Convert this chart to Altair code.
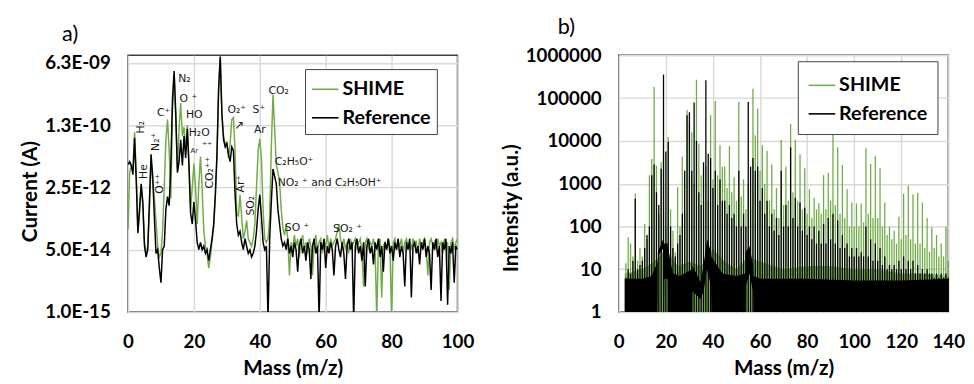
import altair as alt
import numpy as np
import pandas as pd

GREEN = "#70AD47"
BLACK = "#000000"
FONT = "Lato"
ANN_FONT = "DejaVu Sans"
series_names = ["SHIME", "Reference"]

# ---------------- panel a : current vs mass (log10 of current in A) ----------------
a_mass = np.round(np.arange(0, 100.001, 0.5), 1)

a_shime_log = [
    -12.75, -11.2, -11.0, -11.1, -10.1, -11.2, -12.8, -12.3, -11.55, -12.1,
    -13.1, -13.4, -13.2, -12.2, -10.9, -11.4, -11.9, -12.5, -13.2, -13.5,
    -13.4, -12.8, -11.6, -10.3, -9.75, -10.6, -11.9, -9.5, -8.55, -9.7,
    -11.1, -10.0, -9.3, -10.2, -9.96, -10.6, -9.9, -10.9, -12.2, -11.6,
    -10.95, -11.6, -12.6, -11.5, -10.76, -11.6, -12.8, -13.2, -13.4, -13.8,
    -13.5, -13.1, -12.7, -11.9, -10.8, -9.0, -8.1, -9.6, -10.2, -10.4,
    -10.4, -10.8, -10.4, -9.75, -9.7, -10.6, -12.3, -12.4, -11.8, -12.4,
    -13.0, -12.8, -12.5, -13.0, -13.1, -13.2, -13.0, -12.6, -11.6, -10.6,
    -10.28, -10.8, -12.2, -13.0, -13.1, -13.0, -12.4, -10.5, -9.07, -10.0,
    -10.98, -11.2, -11.43, -12.2, -12.7,
    -12.9, -12.6, -13.0, -14.0, -13.1, -13.3, -12.9, -13.2, -13.0, -13.5,
    -13.1, -12.9, -13.3, -13.1, -13.4, -13.0, -13.2, -14.0, -13.1, -12.9,
    -13.3, -13.1, -13.0, -13.4, -13.1, -13.2, -12.9, -13.3, -13.0, -13.2,
    -13.1, -13.0, -12.8, -12.6, -13.0, -13.2, -13.0, -13.3, -13.1, -13.4,
    -13.0, -13.2, -13.1, -13.0, -13.3, -13.1, -13.0, -13.4, -14.3, -13.1,
    -13.0, -13.3, -13.1, -13.2, -13.0, -13.3, -15.2, -13.1, -13.0, -14.6,
    -13.2, -13.1, -13.3, -13.0, -13.2, -15.2, -13.1, -13.0, -13.3, -13.1,
    -13.2, -13.0, -13.4, -13.1, -13.0, -13.2, -13.1, -13.3, -13.0, -13.2,
    -13.1, -13.4, -13.0, -13.2, -13.1, -13.0, -13.3, -14.0, -13.1, -13.0,
    -13.2, -13.1, -13.3, -13.0, -13.2, -13.1, -13.4, -13.0, -13.2, -13.1,
    -14.4, -13.1, -13.0, -13.3, -13.1, -13.0,
]

a_ref_log = [
    -10.98, -10.9, -11.0, -11.25, -10.25, -11.4, -12.85, -12.2, -11.5, -12.0,
    -13.2, -13.5, -13.3, -12.0, -10.7, -11.3, -12.4, -13.4, -13.3, -13.8,
    -14.2, -13.3, -13.2, -12.2, -11.85, -12.1, -11.0, -9.2, -8.43, -9.6,
    -11.2, -10.9, -10.3, -11.0, -10.2, -10.8, -10.0, -11.0, -12.3, -12.6,
    -12.0, -12.5, -13.1, -13.3, -13.1, -13.3, -13.2, -13.4, -13.3, -13.6,
    -13.3, -13.0, -12.6, -11.8, -10.7, -8.9, -8.03, -9.6, -10.3, -10.5,
    -10.4, -10.7, -10.9, -10.5, -10.6, -11.8, -12.6, -12.9, -12.8, -13.1,
    -13.3, -13.0, -13.2, -13.4, -13.3, -13.5, -13.4, -13.2, -12.8, -12.2,
    -11.8, -12.4, -13.1, -13.3, -13.2, -15.2, -13.0, -12.0, -11.1, -11.3,
    -11.5, -12.2, -12.6, -13.0, -13.2,
    -13.1, -13.3, -13.0, -13.4, -13.2, -13.5, -13.1, -13.3, -13.9, -13.2,
    -13.0, -13.4, -13.2, -13.6, -13.1, -13.3, -14.1, -13.2, -13.0, -13.4,
    -13.2, -15.2, -13.1, -13.3, -13.0, -13.8, -13.2, -13.4, -13.1, -13.3,
    -14.0, -13.2, -13.0, -13.3, -13.5, -13.1, -13.4, -14.1, -13.2, -13.0,
    -13.3, -13.1, -15.2, -13.2, -13.0, -13.4, -13.2, -13.6, -13.1, -14.3,
    -13.2, -13.0, -13.4, -13.2, -13.7, -13.1, -13.3, -13.0, -13.5, -13.2,
    -13.9, -13.1, -13.3, -13.0, -13.4, -13.2, -13.6, -13.1, -13.3, -13.0,
    -13.5, -13.2, -13.4, -14.3, -13.1, -13.3, -13.0, -14.6, -13.2, -13.1,
    -13.4, -13.2, -13.7, -13.1, -13.3, -13.0, -13.5, -13.2, -13.4, -14.4,
    -13.1, -13.3, -13.0, -13.5, -13.2, -14.7, -13.1, -13.3, -13.0, -14.8,
    -13.2, -13.4, -13.1, -14.2, -13.2, -13.3,
]

a_ytick_values = [1e-15, 5e-14, 2.5e-12, 1.25e-10, 6.25e-9]
a_ytick_labels = ["1.0E-15", "5.0E-14", "2.5E-12", "1.3E-10", "6.3E-09"]
a_xticks = [0, 20, 40, 60, 80, 100]

ann_text = ["H₂", "He", "N₂⁺", "O⁺⁺", "C⁺", "N₂", "O ⁺", "HO", "H₂O", "Ar", "⁺⁺",
            "CO₂⁺⁺", "O₂⁺", "↗", "S⁺", "Ar", "CO₂", "Ar⁺", "SO₂", "C₂H₅O⁺",
            "NO₂ ⁺ and C₂H₅OH⁺", "SO ⁺", "SO₂ ⁺"]
ann_mass = [3.9, 4.8, 8.4, 9.6, 10.8, 17.1, 18.3, 20.1, 21.6, 20.1, 24.0,
            24.8, 33.0, 33.8, 39.7, 40.0, 45.7, 34.3, 37.3, 50.4,
            61.2, 51.3, 66.6]
ann_log = [-9.96, -11.17, -10.36, -11.5, -9.58, -8.65, -9.2, -9.64, -10.12, -10.62, -10.44,
           -11.2, -9.5, -9.9, -9.5, -10.04, -8.97, -11.5, -12.1, -10.92,
           -11.48, -12.7, -12.75]
ann_angle = [270, 270, 270, 270, 0, 0, 0, 0, 0, 0, 0,
             270, 0, 0, 0, 0, 0, 270, 270, 0,
             0, 0, 0]
ann_size = [11, 11, 11, 11, 11, 11, 11, 11, 11, 7, 10,
            11, 11, 12, 11, 11, 11, 11, 11, 11,
            11, 11, 11]

# ---------------- panel b : intensity vs mass (log10 of intensity) ----------------
b_mass = list(range(1, 141))
b_shime_log = [
    0.0, 0.0, 1.14, 1.75, 1.6, 1.3, 2.77, 1.2, 1.5, 1.3,
    2.06, 1.7, 3.2, 3.58, 5.26, 3.42, 2.29, 3.5, 3.7, 2.0,
    4.09, 2.4, 1.9, 1.4, 2.92, 2.0, 3.63, 2.3, 4.73, 4.4,
    4.2, 3.0, 5.43, 3.94, 3.2, 2.6, 3.4, 2.6, 4.6, 3.1,
    4.93, 3.2, 3.9, 3.4, 3.4, 2.9, 3.88, 2.8, 3.15, 2.6,
    4.91, 2.7, 3.1, 2.4, 3.0, 2.4, 5.22, 4.13, 4.76, 3.3,
    3.9, 3.0, 3.77, 2.6, 3.45, 2.4, 2.9, 2.2, 4.02, 2.5,
    3.4, 2.6, 4.4, 2.8, 4.03, 2.6, 3.69, 2.4, 3.36, 2.3,
    2.87, 2.2, 2.67, 2.4, 2.55, 2.3, 3.2, 2.4, 3.25, 2.6,
    4.23, 2.5, 3.85, 2.3, 3.44, 2.2, 2.87, 2.0, 2.56, 2.0,
    2.54, 2.0, 2.54, 2.1, 3.84, 2.3, 3.46, 2.2, 3.65, 2.2,
    3.36, 2.0, 2.56, 1.8, 2.0, 1.7, 1.9, 1.6, 2.23, 1.7,
    2.77, 1.8, 2.96, 1.7, 2.75, 1.6, 2.79, 1.6, 2.56, 1.5,
    2.2, 1.4, 1.98, 1.5, 1.8, 1.3, 1.6, 1.3, 2.0, 1.2,
]
b_ref_log = [
    0.0, 0.0, 0.8, 1.0, 0.9, 1.2, 2.65, 1.0, 1.1, 1.2,
    1.5, 1.8, 2.0, 3.2, 3.45, 2.8, 2.5, 3.35, 5.55, 3.75,
    3.98, 2.0, 1.5, 1.3, 1.6, 1.8, 2.3, 3.3, 4.6, 4.67,
    3.3, 4.9, 4.0, 2.8, 2.5, 3.5, 5.42, 3.7, 3.6, 2.9,
    3.3, 2.5, 3.1, 2.6, 2.6, 2.3, 2.5, 2.2, 2.3, 2.0,
    3.3, 2.0, 2.3, 2.0, 4.91, 3.4, 3.6, 3.3, 3.4, 2.6,
    2.9, 2.3, 2.6, 2.0, 2.3, 1.9, 2.2, 1.8, 3.3, 2.0,
    2.5, 2.0, 3.85, 2.2, 2.67, 2.0, 2.56, 1.9, 2.44, 1.8,
    2.0, 1.7, 2.0, 1.6, 1.9, 1.6, 2.06, 1.6, 2.2, 1.7,
    2.3, 1.6, 2.14, 1.5, 1.8, 1.5, 1.6, 1.3, 1.5, 1.3,
    1.5, 1.3, 1.4, 1.3, 2.0, 1.3, 1.7, 1.2, 1.6, 1.2,
    1.5, 1.1, 1.3, 1.0, 1.1, 1.0, 1.1, 1.0, 1.2, 1.0,
    1.3, 1.0, 1.2, 1.0, 1.2, 0.9, 1.1, 0.9, 1.0, 0.9,
    1.0, 0.9, 0.9, 0.8, 0.9, 0.8, 0.9, 0.8, 0.9, 0.8,
]

# noise floors of the dense spectra (intensity)
shime_floor_mass = [2.5, 10, 15, 20, 25, 30, 35, 40, 45, 50, 55, 60, 70, 80, 90, 100, 110, 120, 130, 140]
shime_floor_high = [8, 10, 15, 30, 12, 15, 12, 30, 15, 10, 20, 15, 10, 12, 12, 10, 10, 8, 8, 7]

ref_floor_mass = [2.5, 10, 14, 16.5, 16.6, 18.8, 18.9, 19.3, 19.4, 20.8, 20.9, 23, 26, 31.2, 31.3,
                  33, 34.7, 36, 37.5, 39.2, 39.3, 44, 50, 53.8, 53.9, 55.5, 57.1, 57.2, 60, 80,
                  100, 120, 140]
ref_floor_low = [1, 1, 1, 1, 20, 30, 1, 1, 6, 6, 1, 1, 1, 1, 3,
                 2.5, 2, 3, 10, 4, 1, 1, 1, 1, 4, 8, 3, 1, 1, 1,
                 1, 1, 1]
ref_floor_high = [6, 6, 7, 15, 25, 50, 50, 40, 40, 40, 30, 8, 7, 10, 12,
                  8, 5, 12, 50, 25, 20, 8, 7, 8, 25, 35, 12, 7, 6, 6,
                  5.5, 5.5, 6]

b_yticks = [1, 10, 100, 1000, 10000, 100000, 1000000]
b_xticks = [0, 20, 40, 60, 80, 100, 120, 140]

# ---------------- data frames ----------------
a_df = pd.concat([
    pd.DataFrame({"mass": a_mass, "current": np.power(10.0, a_shime_log), "series": "SHIME"}),
    pd.DataFrame({"mass": a_mass, "current": np.power(10.0, a_ref_log), "series": "Reference"}),
])
ann_df = pd.DataFrame({"text": ann_text, "mass": ann_mass, "current": np.power(10.0, ann_log),
                       "angle": ann_angle, "size": ann_size})

b_green = pd.DataFrame({"mass": b_mass, "intensity": np.power(10.0, b_shime_log), "base": 1.0, "series": "SHIME"})
b_black = pd.DataFrame({"mass": b_mass, "intensity": np.power(10.0, b_ref_log), "base": 1.0, "series": "Reference"})
g_floor = pd.DataFrame({"mass": shime_floor_mass, "high": shime_floor_high, "low": 1.0})
r_floor = pd.DataFrame({"mass": ref_floor_mass, "high": ref_floor_high, "low": ref_floor_low})

color_scale = alt.Scale(domain=series_names, range=[GREEN, BLACK])


def make_legend(lx, ly, pad):
    return alt.Legend(title=None, orient="none", legendX=lx, legendY=ly, direction="vertical",
                      fillColor="white", strokeColor="#404040", padding=pad,
                      symbolType="stroke", symbolSize=729, symbolStrokeWidth=1.6,
                      labelFont=FONT, labelFontSize=20, labelFontWeight="bold", labelColor="black",
                      rowPadding=4, labelOffset=3, cornerRadius=0)


label_expr = " : ".join(
    [f"abs(datum.value - {v}) < {v*0.01} ? '{l}'" for v, l in zip(a_ytick_values, a_ytick_labels)]
) + " : ''"

a_x = alt.X("mass:Q", scale=alt.Scale(domain=[0, 100], nice=False),
            axis=alt.Axis(values=a_xticks, title="Mass (m/z)", titlePadding=7, labelPadding=21,
                          labelOverlap=False, labelFlush=False))
a_y = alt.Y("current:Q", scale=alt.Scale(type="log", domain=[1e-15, 1e-8], nice=False),
            axis=alt.Axis(values=a_ytick_values, labelExpr=label_expr, title="Current (A)",
                          titlePadding=4, titleY=138, labelPadding=18, labelFlush=False))

a_green = alt.Chart(a_df).transform_filter(alt.datum.series == "SHIME").mark_line(
    strokeWidth=1.5, clip=True).encode(
    x=a_x, y=a_y, order="mass:Q",
    color=alt.Color("series:N", scale=color_scale, legend=make_legend(180, 14, 6)))
a_black = alt.Chart(a_df).transform_filter(alt.datum.series == "Reference").mark_line(
    strokeWidth=1.5, clip=True).encode(
    x=a_x, y=a_y, order="mass:Q",
    color=alt.Color("series:N", scale=color_scale, legend=make_legend(180, 14, 6)))
a_ann = alt.Chart(ann_df).mark_text(font=ANN_FONT, color="#1a1a1a").encode(
    x=alt.X("mass:Q"), y=alt.Y("current:Q"), text="text:N",
    angle=alt.Angle("angle:Q", scale=None), size=alt.Size("size:Q", scale=None))

panel_a = alt.layer(a_green, a_black, a_ann).properties(
    width=335, height=261,
    title=alt.TitleParams("a)", anchor="start", frame="group", dx=-67, fontSize=22,
                          font=FONT, fontWeight="normal", offset=8))

b_x = alt.X("mass:Q", scale=alt.Scale(domain=[0, 140], nice=False),
            axis=alt.Axis(values=b_xticks, title="Mass (m/z)", titlePadding=7, labelPadding=21,
                          labelOverlap=False, labelFlush=False))
b_y = alt.Y("intensity:Q", scale=alt.Scale(type="log", domain=[1, 1000000], nice=False),
            axis=alt.Axis(values=b_yticks, format="d", title="Intensity (a.u.)",
                          titlePadding=4, titleY=155, labelPadding=18, labelFlush=False))

b_gfloor = alt.Chart(g_floor).mark_area(color=GREEN, opacity=0.85).encode(
    x=alt.X("mass:Q"), y=alt.Y("high:Q"), y2="low:Q")
b_gsticks = alt.Chart(b_green).mark_rule(strokeWidth=1.3).encode(
    x=b_x, y=b_y, y2="base:Q",
    color=alt.Color("series:N", scale=color_scale, legend=make_legend(182, 6, 10)))
b_rsticks = alt.Chart(b_black).mark_rule(strokeWidth=1.3).encode(
    x=b_x, y=b_y, y2="base:Q",
    color=alt.Color("series:N", scale=color_scale, legend=make_legend(182, 6, 10)))
b_rfloor = alt.Chart(r_floor).mark_area(color=BLACK).encode(
    x=alt.X("mass:Q"), y=alt.Y("high:Q"), y2="low:Q")

panel_b = alt.layer(b_gfloor, b_gsticks, b_rsticks, b_rfloor).properties(
    width=335, height=261,
    title=alt.TitleParams("b)", anchor="start", frame="group", dx=-62, fontSize=22,
                          font=FONT, fontWeight="normal", offset=8))

chart = alt.hconcat(panel_a, panel_b, spacing=25).resolve_scale(
    color="independent").resolve_legend(color="independent").properties(
    padding={"left": 11, "top": 4, "right": 0, "bottom": 0}
).configure_axis(
    labelFont=FONT, labelFontSize=19, labelFontWeight="bold", labelColor="black",
    titleFont=FONT, titleFontSize=21, titleFontWeight="bold", titleColor="black",
    grid=True, gridColor="#d9d9d9", gridWidth=1.5, domain=False, ticks=False, labelPadding=20,
).configure_view(stroke="#404040", strokeWidth=1.5).configure_title(color="black")

chart.save("out.html", embed_options={"renderer": "svg", "actions": False})
